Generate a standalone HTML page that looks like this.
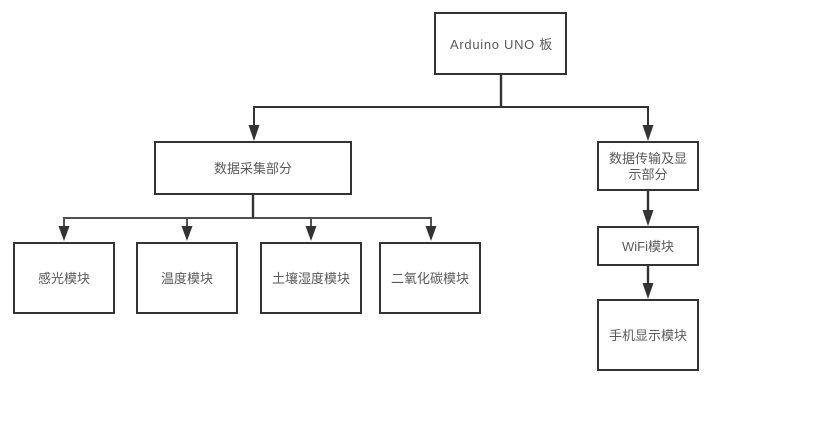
<!DOCTYPE html>
<html>
<head>
<meta charset="utf-8">
<style>
html,body{margin:0;padding:0;background:#fff;width:816px;height:423px;overflow:hidden}
svg{display:block}
text{font-family:"Liberation Sans","Noto Sans CJK SC",sans-serif;font-size:13px;fill:#5a5a5a;text-anchor:middle}
.b{fill:#fff;stroke:#333;stroke-width:2}
.l{fill:none;stroke:#333;stroke-width:2}
.t{fill:none;stroke:#333;stroke-width:2.4}
.a{fill:#333}
</style>
</head>
<body>
<svg width="816" height="423" viewBox="0 0 816 423" xmlns="http://www.w3.org/2000/svg">
<path class="t" d="M501 74V107"/>
<path class="l" d="M254 126V107H648V126"/>
<path class="a" d="M248.5 125H259.5L254 141ZM642.5 125H653.5L648 141Z"/>
<path class="t" d="M253 194V218"/>
<path class="l" stroke-opacity="0.85" d="M64 227V218H431V227M187 218V227M311 218V227"/>
<path class="a" d="M58.5 226H69.5L64 241ZM181.5 226H192.5L187 241ZM305.5 226H316.5L311 241ZM425.5 226H436.5L431 241Z"/>
<path class="t" d="M648 190V212M648 265V285"/>
<path class="a" d="M642.5 210H653.5L648 226ZM642.5 283H653.5L648 299Z"/>
<rect class="b" x="435" y="13" width="131" height="61"/>
<rect class="b" x="155" y="142" width="196" height="52"/>
<rect class="b" x="598" y="142" width="100" height="48"/>
<rect class="b" x="14" y="243" width="100" height="70"/>
<rect class="b" x="137" y="243" width="100" height="70"/>
<rect class="b" x="261" y="243" width="100" height="70"/>
<rect class="b" x="380" y="243" width="100" height="70"/>
<rect class="b" x="598" y="227" width="100" height="38"/>
<rect class="b" x="598" y="300" width="100" height="70"/>
<text x="501.5" y="49" letter-spacing="0.7">Arduino UNO 板</text>
<text x="253" y="173">数据采集部分</text>
<text x="648" y="163">数据传输及显</text>
<text x="648" y="179">示部分</text>
<text x="64" y="283">感光模块</text>
<text x="187" y="283">温度模块</text>
<text x="311" y="283">土壤湿度模块</text>
<text x="430" y="283">二氧化碳模块</text>
<text x="648" y="251">WiFi模块</text>
<text x="648" y="340">手机显示模块</text>
</svg>
</body>
</html>
